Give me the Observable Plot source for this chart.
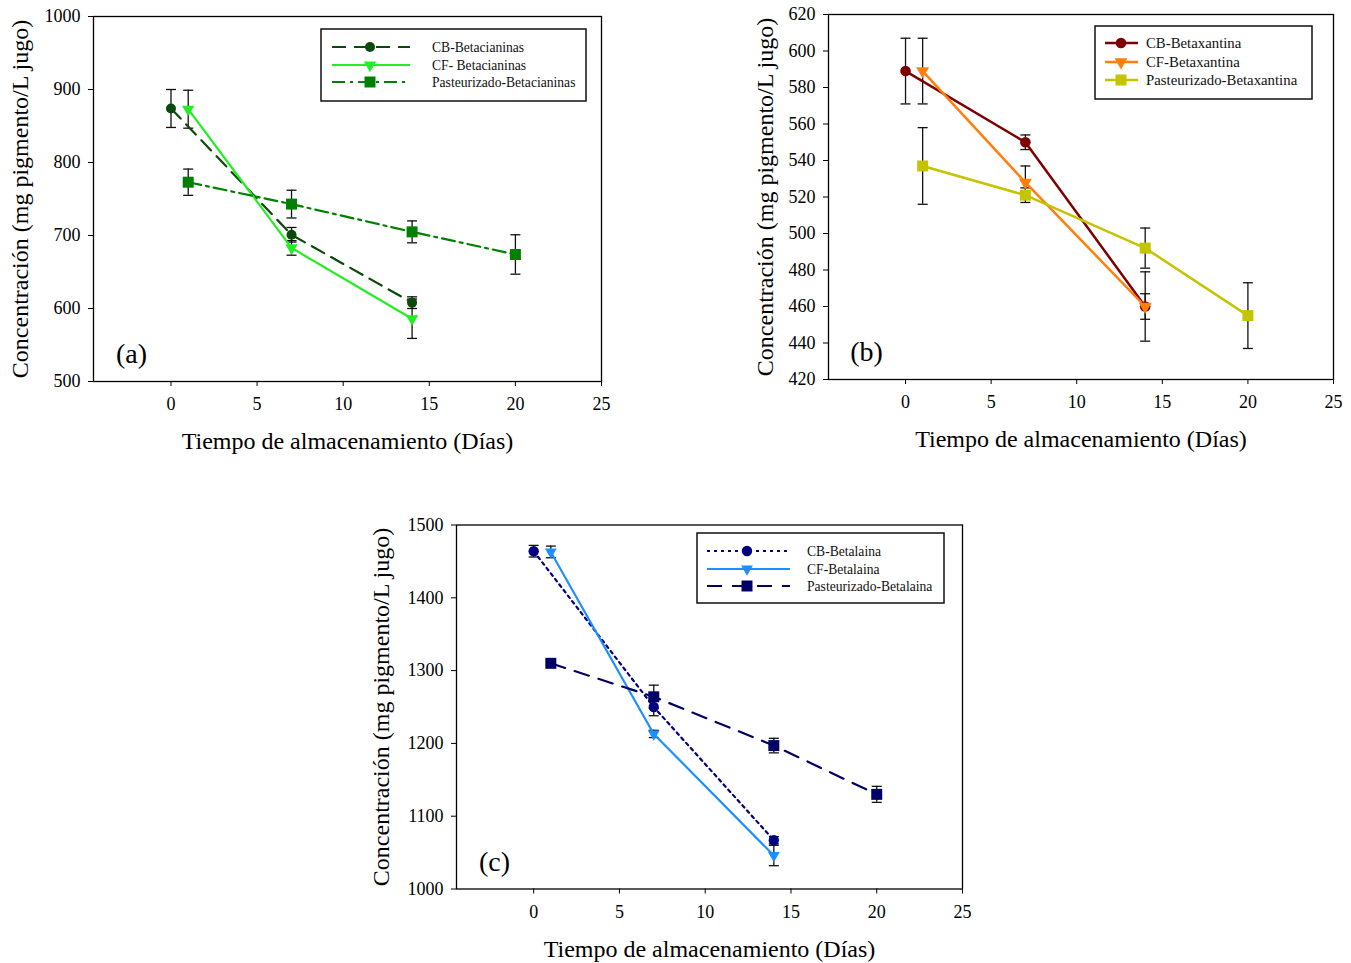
<!DOCTYPE html>
<html>
<head>
<meta charset="utf-8">
<script src="https://cdn.jsdelivr.net/npm/d3@7"></script>
<script src="https://cdn.jsdelivr.net/npm/@observablehq/plot@0.6"></script>
<style>
  body { margin: 0; background: #fff; }
  #root { position: relative; width: 1351px; height: 963px; background: #fff; overflow: hidden; font-family: "Liberation Serif", "DejaVu Serif", serif; }
  .panel { position: absolute; }
  .legend { position: absolute; }
</style>
</head>
<body>
<div id="root"></div>
<script>
// ---------- DATA ----------
const xTicks = [0, 5, 10, 15, 20, 25];
const daysCB = [0, 7, 14];
const daysCF = [1, 7, 14];
const daysP = [1, 7, 14, 20];

// (a) Betacianinas
const aYTicks = [500, 600, 700, 800, 900, 1000];
const aCB = [874, 701, 608];
const aCBerr = [26, 10, 8];
const aCF = [873, 683, 586];
const aCFerr = [26, 10, 27];
const aP = [773, 743, 705, 674];
const aPerr = [18, 19, 15, 27];

// (b) Betaxantina
const bYTicks = [420, 440, 460, 480, 500, 520, 540, 560, 580, 600, 620];
const bCB = [589, 550, 460];
const bCBerr = [18, 4, 7];
const bCF = [589, 528, 460];
const bCFerr = [18, 9, 19];
const bP = [537, 521, 492, 455];
const bPerr = [21, 4, 11, 18];

// (c) Betalaina
const cYTicks = [1000, 1100, 1200, 1300, 1400, 1500];
const cCB = [1464, 1250, 1067];
const cCBerr = [8, 12, 5];
const cCF = [1463, 1213, 1046];
const cCFerr = [8, 5, 14];
const cP = [1310, 1264, 1197, 1130];
const cPerr = [3, 16, 10, 11];

const namesA = ["CB-Betacianinas", "CF- Betacianinas", "Pasteurizado-Betacianinas"];
const namesB = ["CB-Betaxantina", "CF-Betaxantina", "Pasteurizado-Betaxantina"];
const namesC = ["CB-Betalaina", "CF-Betalaina", "Pasteurizado-Betalaina"];

const yLabel = "Concentración (mg pigmento/L jugo)";
const xLabel = "Tiempo de almacenamiento (Días)";

// ---------- HELPERS ----------
const rows = (days, vals, errs) => days.map((d, i) => ({day: d, v: vals[i], e: errs[i]}));

const capSymbol = {
  draw(context, size) {
    const h = Math.sqrt(size / Math.PI);
    context.moveTo(-h, 0);
    context.lineTo(h, 0);
  }
};

const panels = [
  {
    label: "(a)", left: 0, top: 0, width: 620, height: 470,
    m: {l: 93, r: 19, t: 16, b: 89}, yDomain: [500, 1000], yTicks: aYTicks, ylabelDx: -73, lw: 2.2,
    series: [
      {name: namesA[0], data: rows(daysCB, aCB, aCBerr), color: "#0b4a0b", dash: "14,8", symbol: "circle", rot: 0, r: 5},
      {name: namesA[1], data: rows(daysCF, aCF, aCFerr), color: "#22ee22", dash: null, symbol: "triangle", rot: 180, r: 4.6},
      {name: namesA[2], data: rows(daysP, aP, aPerr), color: "#008000", dash: "13,5,3,5", symbol: "square", rot: 0, r: 6.2}
    ],
    legend: {left: 321, top: 29, w: 265, h: 72, rows: [18, 36, 53], lx1: 11, lx2: 89, mx: 49, tx: 111, fs: 13.6}
  },
  {
    label: "(b)", left: 735, top: 0, width: 616, height: 470,
    m: {l: 93, r: 18, t: 14, b: 91}, yDomain: [420, 620], yTicks: bYTicks, ylabelDx: -63, lw: 2.5,
    series: [
      {name: namesB[0], data: rows(daysCB, bCB, bCBerr), color: "#7f0000", dash: null, symbol: "circle", rot: 0, r: 5.3},
      {name: namesB[1], data: rows(daysCF, bCF, bCFerr), color: "#ff7f0a", dash: null, symbol: "triangle", rot: 180, r: 4.8},
      {name: namesB[2], data: rows(daysP, bP, bPerr), color: "#c4c400", dash: null, symbol: "square", rot: 0, r: 6.2}
    ],
    legend: {left: 1095, top: 26, w: 217, h: 73, rows: [17, 36, 54], lx1: 10, lx2: 43, mx: 26, tx: 51, fs: 14.8}
  },
  {
    label: "(c)", left: 363, top: 500, width: 620, height: 463,
    m: {l: 93, r: 21, t: 24.5, b: 74.5}, yDomain: [1000, 1500], yTicks: cYTicks, ylabelDx: -75, lw: 2.2,
    series: [
      {name: namesC[0], data: rows(daysCB, cCB, cCBerr), color: "#000080", dash: "3,4", symbol: "circle", rot: 0, r: 5.2},
      {name: namesC[1], data: rows(daysCF, cCF, cCFerr), color: "#1e8fff", dash: null, symbol: "triangle", rot: 180, r: 4.4},
      {name: namesC[2], data: rows(daysP, cP, cPerr), color: "#000066", dash: "15,10", symbol: "square", rot: 0, r: 6.2}
    ],
    legend: {left: 697, top: 533, w: 247, h: 70, rows: [18, 36, 53], lx1: 10, lx2: 93, mx: 50, tx: 110, fs: 13.6}
  }
];

const root = document.getElementById("root");

for (const p of panels) {
  const marks = [];
  for (const s of p.series) {
    marks.push(Plot.ruleX(s.data, {x: "day", y1: d => d.v - d.e, y2: d => d.v + d.e, stroke: "#111", strokeWidth: 1.3}));
    marks.push(Plot.dot(s.data, {x: "day", y: d => d.v + d.e, symbol: capSymbol, r: 5, stroke: "#111", strokeWidth: 1.3, fill: "none"}));
    marks.push(Plot.dot(s.data, {x: "day", y: d => d.v - d.e, symbol: capSymbol, r: 5, stroke: "#111", strokeWidth: 1.3, fill: "none"}));
  }
  for (const s of p.series) {
    marks.push(Plot.line(s.data, {x: "day", y: "v", stroke: s.color, strokeWidth: p.lw, strokeDasharray: s.dash ?? undefined}));
  }
  for (const s of p.series) {
    marks.push(Plot.dot(s.data, {x: "day", y: "v", symbol: s.symbol, r: s.r, fill: s.color, stroke: "none", rotate: s.rot}));
  }
  marks.push(Plot.frame({stroke: "#000", strokeWidth: 1.3}));
  marks.push(Plot.axisX({ticks: xTicks, tickSize: 5, tickPadding: 11, fontSize: 18, label: null, tickFormat: d => String(d)}));
  marks.push(Plot.axisY({ticks: p.yTicks, tickSize: 5, tickPadding: 8, fontSize: 18, label: null, tickFormat: d => String(d)}));
  marks.push(Plot.text([xLabel], {text: d => d, frameAnchor: "bottom", dy: 60, fontSize: 24, lineAnchor: "middle", fill: "#000"}));
  marks.push(Plot.text([yLabel], {text: d => d, frameAnchor: "left", rotate: -90, dx: p.ylabelDx, fontSize: 24, textAnchor: "middle", lineAnchor: "middle", fill: "#000"}));
  marks.push(Plot.text([p.label], {text: d => d, frameAnchor: "bottom-left", dx: 38, dy: -27, fontSize: 28, textAnchor: "middle", lineAnchor: "middle", fill: "#000"}));

  const chart = Plot.plot({
    width: p.width,
    height: p.height,
    marginLeft: p.m.l, marginRight: p.m.r, marginTop: p.m.t, marginBottom: p.m.b,
    x: {domain: [-4.5, 25]},
    y: {domain: p.yDomain},
    style: {fontFamily: "'Liberation Serif', 'DejaVu Serif', serif", color: "#000", background: "transparent", overflow: "visible"},
    marks
  });
  chart.classList.add("panel");
  chart.style.left = p.left + "px";
  chart.style.top = p.top + "px";
  root.appendChild(chart);

  // Legend (inside plot area, drawn as overlay)
  const L = p.legend;
  const svg = d3.create("svg")
    .attr("class", "legend")
    .attr("width", L.w + 2).attr("height", L.h + 2)
    .style("left", (L.left - 1) + "px").style("top", (L.top - 1) + "px");
  svg.append("rect").attr("x", 1).attr("y", 1).attr("width", L.w).attr("height", L.h)
    .attr("fill", "#fff").attr("stroke", "#111").attr("stroke-width", 1.5);
  p.series.forEach((s, i) => {
    const y = L.rows[i] + 1;
    svg.append("line").attr("x1", L.lx1 + 1).attr("x2", L.lx2 + 1).attr("y1", y).attr("y2", y)
      .attr("stroke", s.color).attr("stroke-width", p.lw)
      .attr("stroke-dasharray", s.dash || null);
    const symType = s.symbol === "circle" ? d3.symbolCircle : s.symbol === "square" ? d3.symbolSquare : d3.symbolTriangle;
    svg.append("path")
      .attr("d", d3.symbol(symType, Math.PI * s.r * s.r)())
      .attr("transform", `translate(${L.mx + 1},${y}) rotate(${s.rot})`)
      .attr("fill", s.color);
    svg.append("text").attr("x", L.tx + 1).attr("y", y).attr("dy", "0.35em")
      .attr("font-size", L.fs).attr("font-family", "'Liberation Serif', serif").attr("fill", "#111")
      .text(s.name);
  });
  root.appendChild(svg.node());
}
</script>
</body>
</html>
